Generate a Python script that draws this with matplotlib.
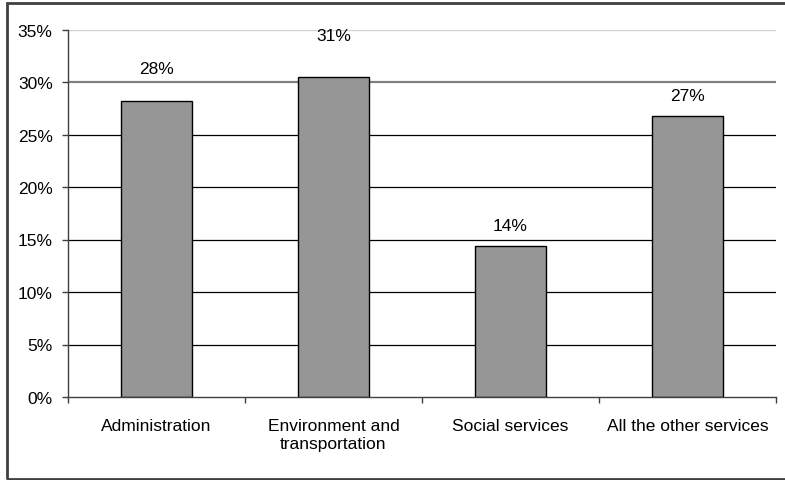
import matplotlib
matplotlib.use("Agg")
import matplotlib.pyplot as plt
from matplotlib.patches import Rectangle
import numpy as np

plt.rcParams['font.family'] = ['Liberation Sans', 'DejaVu Sans']

categories = ["Administration", "Environment and\ntransportation",
              "Social services", "All the other services"]
values = [28.2, 30.5, 14.4, 26.8]
value_labels = ["28%", "31%", "14%", "27%"]
yticks = [0, 5, 10, 15, 20, 25, 30, 35]

fig = plt.figure(figsize=(7.85, 4.81), dpi=100)
W, H = 785, 481
ax = fig.add_axes([68 / W, (H - 398) / H, (776 - 68) / W, (398 - 30.5) / H])

# outer chart border (right edge runs off the image)
fig.patches.append(Rectangle((7 / W, 1.5 / H), 1.0, (476 / H), transform=fig.transFigure,
                             fill=False, edgecolor='#404040', linewidth=2.0))

x = np.arange(len(categories))
ax.bar(x, values, width=0.4, color='#969696', edgecolor='black', linewidth=1.0, zorder=3)

# gridlines (the top two render lighter in the original)
for t in yticks[1:]:
    if t == 30:
        ax.axhline(t, color='#808080', linewidth=1.6, zorder=1)
    elif t == 35:
        ax.axhline(t, color='#d4d4d4', linewidth=1.0, zorder=1)
    else:
        ax.axhline(t, color='black', linewidth=0.9, zorder=1)

fs = 12.5

# value labels above bars
label_pad = [23, 30, 14.5, 14.5]
for xi, v, lab, p in zip(x, values, value_labels, label_pad):
    ax.annotate(lab, (xi, v), xytext=(0, p), textcoords='offset points',
                ha='center', va='center', fontsize=fs, color='black')

ax.set_xlim(-0.5, len(categories) - 0.5)
ax.set_ylim(0, 35)
ax.set_yticks(yticks)
ax.set_yticklabels([f"{t}%" for t in yticks])
ax.set_xticks(x)
ax.set_xticklabels(categories, linespacing=1.3)
ax.set_xticks(np.arange(len(categories) + 1) - 0.5, minor=True)
ax.tick_params(axis='x', which='major', length=0, pad=15, labelsize=fs)
ax.tick_params(axis='x', which='minor', length=4, width=1, color='#404040', direction='out')
ax.tick_params(axis='y', length=4, width=1, color='#404040', pad=7, labelsize=fs)

for s in ['top', 'right']:
    ax.spines[s].set_visible(False)
for s in ['left', 'bottom']:
    ax.spines[s].set_color('#404040')
    ax.spines[s].set_linewidth(1.0)
ax.spines['bottom'].set_zorder(4)

plt.savefig("out.png", dpi=100)
plt.close()
